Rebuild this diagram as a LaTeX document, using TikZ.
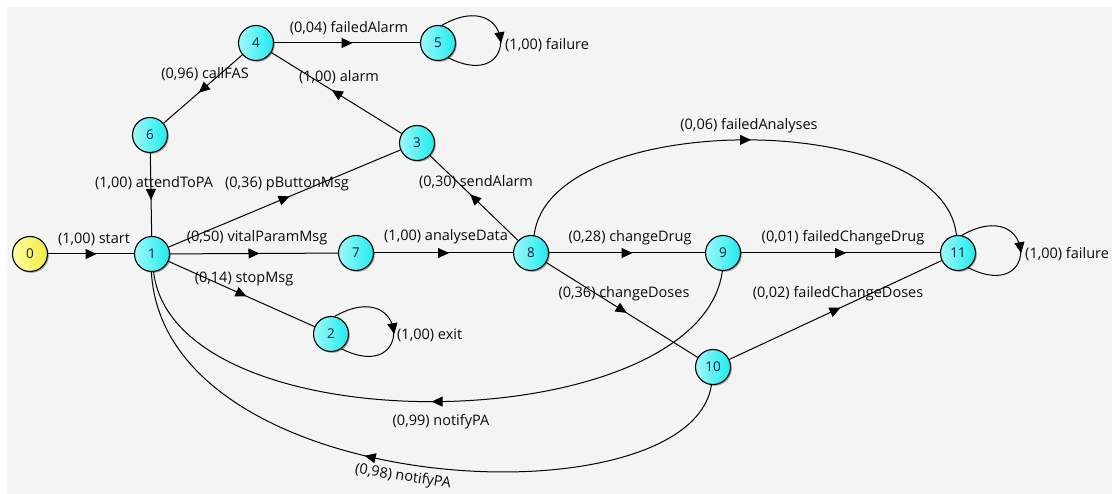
\documentclass[tikz,border=0pt]{standalone}
\usepackage{fontspec}
\setmainfont{Open Sans}
\usetikzlibrary{arrows.meta,decorations.markings,shadows}

\definecolor{canvas}{RGB}{244,244,244}
\definecolor{cyanlight}{RGB}{160,248,248}
\definecolor{cyandeep}{RGB}{30,236,240}
\definecolor{yellowlight}{RGB}{255,255,165}
\definecolor{yellowdeep}{RGB}{238,236,60}
\definecolor{ink}{RGB}{10,10,10}
\definecolor{numink}{RGB}{20,30,70}

\tikzset{
  stnode/.style={circle, draw=black, line width=1.1pt, minimum size=35pt, inner sep=0pt,
    left color=cyanlight, right color=cyandeep, text=numink,
    font=\fontsize{13.5}{13.5}\selectfont,
    drop shadow={shadow xshift=1.3pt, shadow yshift=-1.3pt, opacity=0.35, fill=black}},
  initnode/.style={stnode, left color=yellowlight, right color=yellowdeep},
  trans/.style={draw=black, line width=1pt, postaction={decorate},
    decoration={markings, mark=at position #1 with
      {\arrow[xshift=5.5pt]{Triangle[length=11pt,width=10pt]}}}},
  trans/.default=0.5,
  lbl/.style={font=\fontsize{14.5}{14.5}\selectfont, text=ink, inner sep=0pt},
}

\begin{document}
\begin{tikzpicture}[x=1pt,y=-1pt]
  % canvas
  \fill[white] (0,0) rectangle (1112,494);
  \fill[canvas] (7,7) rectangle (1112,494);
  \useasboundingbox (0,0) rectangle (1112,494);

  % states
  \node[initnode] (n0) at (30,254) {0};
  \node[stnode] (n1) at (152,254) {1};
  \node[stnode] (n2) at (331,334) {2};
  \node[stnode] (n3) at (417,143) {3};
  \node[stnode] (n4) at (256,43) {4};
  \node[stnode] (n5) at (438,43) {5};
  \node[stnode] (n6) at (150,135) {6};
  \node[stnode] (n7) at (356,253) {7};
  \node[stnode] (n8) at (531,253) {8};
  \node[stnode] (n9) at (723,253) {9};
  \node[stnode] (n10) at (713,367) {10};
  \node[stnode] (n11) at (958,253) {11};

  % straight transitions
  \draw[trans] (n0) -- (n1);
  \draw[trans] (n1) -- (n7);
  \draw[trans] (n7) -- (n8);
  \draw[trans] (n8) -- (n9);
  \draw[trans] (n9) -- (n11);
  \draw[trans] (n1) -- (n2);
  \draw[trans] (n1) -- (n3);
  \draw[trans] (n8) -- (n3);
  \draw[trans] (n3) -- (n4);
  \draw[trans] (n4) -- (n6);
  \draw[trans] (n6) -- (n1);
  \draw[trans] (n4) -- (n5);
  \draw[trans] (n8) -- (n10);
  \draw[trans] (n10) -- (n11);

  % curved transitions
  \draw[trans] (n8.80) .. controls +(15,-127) and +(-13,-127) .. (n11.95);
  \draw[trans] (n9.-92) .. controls +(-23,169) and +(22,178) .. (n1.-85);
  \draw[trans=0.55] (n10.-95) .. controls +(-21,140) and +(13,230) .. (n1.-92);

  % self loops
  \draw[trans] (n5.78) .. controls +(74,-42) and +(74,37) .. (n5.-55);
  \draw[trans] (n2.78) .. controls +(74,-42) and +(74,37) .. (n2.-55);
  \draw[trans] (n11.78) .. controls +(74,-42) and +(74,37) .. (n11.-55);

  % transition labels
  \node[lbl] (l01) at (94,239) {(1,00) start};
  \node[lbl] (l17) at (257,238) {(0,50) vitalParamMsg};
  \node[lbl] (l78) at (446,237) {(1,00) analyseData};
  \node[lbl] (l89) at (630,238) {(0,28) changeDrug};
  \node[lbl] (l911) at (843,238) {(0,01) failedChangeDrug};
  \node[lbl, anchor=west] (l1111) at (1025,254) {(1,00) failure};
  \node[lbl] (l12) at (244,279) {(0,14) stopMsg};
  \node[lbl, anchor=west] (l22) at (397,335) {(1,00) exit};
  \node[lbl] (l13) at (287,184) {(0,36) pButtonMsg};
  \node[lbl] (l83) at (476,182) {(0,30) sendAlarm};
  \node[lbl] (l61) at (154,183) {(1,00) attendToPA};
  \node[lbl] (l34) at (339,77) {(1,00) alarm};
  \node[lbl] (l46) at (205,74) {(0,96) callFAS};
  \node[lbl] (l45) at (349,28) {(0,04) failedAlarm};
  \node[lbl, anchor=west] (l55) at (505,45) {(1,00) failure};
  \node[lbl] (l811) at (749,126) {(0,06) failedAnalyses};
  \node[lbl] (l810) at (624,294) {(0,36) changeDoses};
  \node[lbl] (l1011) at (838,294) {(0,02) failedChangeDoses};
  \node[lbl] (l91) at (441,422) {(0,99) notifyPA};
  \node[lbl, rotate=-9] (l101) at (403,477) {(0,98) notifyPA};
\end{tikzpicture}
\end{document}
